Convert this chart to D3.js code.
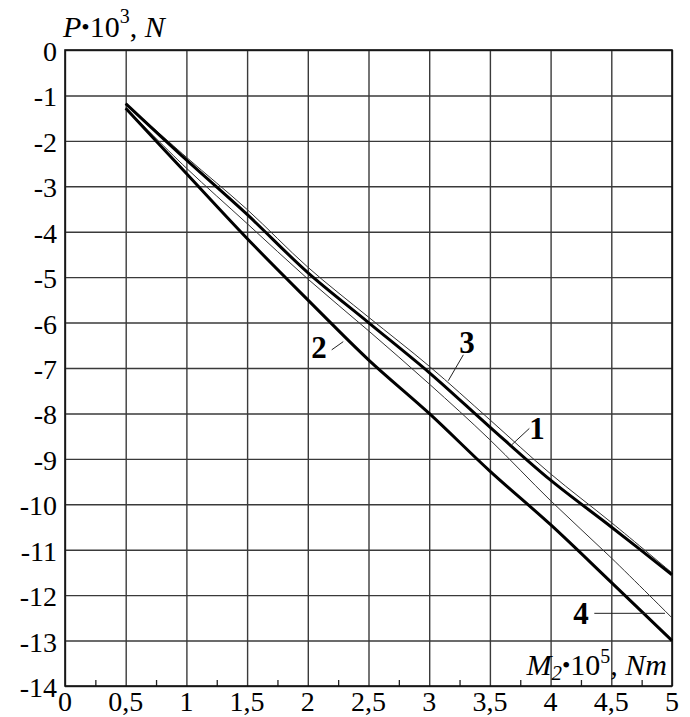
<!DOCTYPE html>
<html>
<head>
<meta charset="utf-8">
<script src="https://cdn.jsdelivr.net/npm/d3@7"></script>
<style>
  body { margin: 0; background: #fff; }
  svg text { font-family: "Liberation Serif", "Times New Roman", serif; fill: #000; }
</style>
</head>
<body>
<svg width="690" height="717"></svg>
<script>
// values
const xValues = [0.5, 1, 1.5, 2, 2.5, 3, 3.5, 4, 4.5, 5];
const curve1 = [-1.18, -2.42, -3.62, -4.9, -6.0, -7.1, -8.3, -9.47, -10.5, -11.55];
const curve2 = [-1.28, -2.72, -4.15, -5.5, -6.82, -8.0, -9.27, -10.45, -11.72, -13.0];
const curve3 = [-1.18, -2.36, -3.51, -4.78, -5.88, -6.96, -8.14, -9.33, -10.4, -11.51];
const curve4 = [-1.28, -2.6, -3.82, -5.04, -6.18, -7.35, -8.58, -9.92, -11.18, -12.5];

const xTicks = [0, 0.5, 1, 1.5, 2, 2.5, 3, 3.5, 4, 4.5, 5];
const yTicks = [0, -1, -2, -3, -4, -5, -6, -7, -8, -9, -10, -11, -12, -13, -14];
const xMinor = [0.25, 0.75, 1.25, 1.75, 2.25, 2.75, 3.25, 3.75, 4.25, 4.75];

// curve labels: text position and leader line, in data units
const labels = [
    { name: "1", x: 3.888, y: -8.56, from: [3.68, -8.69], to: [3.825, -8.33] },
    { name: "2", x: 2.092, y: -6.78, from: [2.197, -6.6], to: [2.292, -6.42] },
    { name: "3", x: 3.311, y: -6.67, from: [3.157, -7.28], to: [3.281, -6.71] },
    { name: "4", x: 4.25, y: -12.63, from: [4.36, -12.4], to: [4.942, -12.4] }
];

const margin = { top: 50, right: 18, bottom: 31, left: 65 },
    width = 690 - margin.left - margin.right,
    height = 717 - margin.top - margin.bottom;

const svg = d3.select("svg");
const g = svg.append("g")
    .attr("transform", `translate(${margin.left}, ${margin.top})`);

const x = d3.scaleLinear().domain([0, 5]).range([0, width]);
const y = d3.scaleLinear().domain([-14, 0]).range([height, 0]);

// grid
g.append("g")
    .attr("transform", `translate(0, ${height})`)
    .call(d3.axisBottom(x).tickValues(xTicks).tickSize(-height).tickFormat(""))
    .call(a => a.select(".domain").remove())
    .selectAll("line").attr("stroke", "#3a3a3a").attr("stroke-width", 1.4);

g.append("g")
    .call(d3.axisLeft(y).tickValues(yTicks).tickSize(-width).tickFormat(""))
    .call(a => a.select(".domain").remove())
    .selectAll("line").attr("stroke", "#3a3a3a").attr("stroke-width", 1.4);

// minor ticks on the bottom axis
g.append("g")
    .attr("transform", `translate(0, ${height})`)
    .call(d3.axisBottom(x).tickValues(xMinor).tickSize(-6).tickFormat(""))
    .call(a => a.select(".domain").remove())
    .selectAll("line").attr("stroke", "#222").attr("stroke-width", 1.3);

// frame
g.append("rect")
    .attr("width", width).attr("height", height)
    .attr("fill", "none").attr("stroke", "#111").attr("stroke-width", 1.6);

// tick labels
g.selectAll(".xlab").data(xTicks).enter().append("text")
    .attr("x", d => x(d))
    .attr("y", height + 25)
    .attr("text-anchor", "middle")
    .attr("font-size", "28px")
    .text(d => String(d).replace(".", ","));

g.selectAll(".ylab").data(yTicks).enter().append("text")
    .attr("x", -8)
    .attr("y", d => y(d) + 11)
    .attr("text-anchor", "end")
    .attr("font-size", "28px")
    .text(d => d);

// axis titles
const yt = svg.append("text").attr("x", 63).attr("y", 37).attr("font-size", "30px");
yt.append("tspan").attr("font-style", "italic").text("P");
yt.append("tspan").text("\u2022").attr("font-size", "24px").attr("dy", -2);
yt.append("tspan").text("10").attr("dy", 2);
yt.append("tspan").text("3").attr("font-size", "20px").attr("dy", -14);
yt.append("tspan").text(", ").attr("dy", 14);
yt.append("tspan").attr("font-style", "italic").text("N");

const xt = svg.append("text").attr("x", 667).attr("y", 675)
    .attr("text-anchor", "end").attr("font-size", "30px");
xt.append("tspan").attr("font-style", "italic").text("M");
xt.append("tspan").text("2").attr("font-size", "21px").attr("font-style", "italic").attr("dy", 5);
xt.append("tspan").text("\u2022").attr("font-size", "24px").attr("dy", -7);
xt.append("tspan").text("10").attr("dy", 2);
xt.append("tspan").text("5").attr("font-size", "20px").attr("dy", -12);
xt.append("tspan").text(", ").attr("dy", 12);
xt.append("tspan").attr("font-style", "italic").text("Nm");

// curves
const line = d3.line()
    .x((d, i) => x(xValues[i]))
    .y(d => y(d))
    .curve(d3.curveCatmullRom.alpha(0.5));

const series = [
    { values: curve3, w: 1, color: "#333" },
    { values: curve4, w: 1, color: "#333" },
    { values: curve1, w: 3, color: "#000" },
    { values: curve2, w: 3, color: "#000" }
];

g.selectAll(".curve").data(series).enter().append("path")
    .attr("d", d => line(d.values))
    .attr("fill", "none")
    .attr("stroke", d => d.color)
    .attr("stroke-width", d => d.w)
    .attr("stroke-linejoin", "round");

// curve numbers with leader lines
g.selectAll(".leader").data(labels).enter().append("line")
    .attr("x1", d => x(d.from[0])).attr("y1", d => y(d.from[1]))
    .attr("x2", d => x(d.to[0])).attr("y2", d => y(d.to[1]))
    .attr("stroke", "#222").attr("stroke-width", 1);

g.selectAll(".num").data(labels).enter().append("text")
    .attr("x", d => x(d.x))
    .attr("y", d => y(d.y))
    .attr("text-anchor", "middle")
    .attr("font-size", "31px")
    .attr("font-weight", "bold")
    .text(d => d.name);
</script>
</body>
</html>
